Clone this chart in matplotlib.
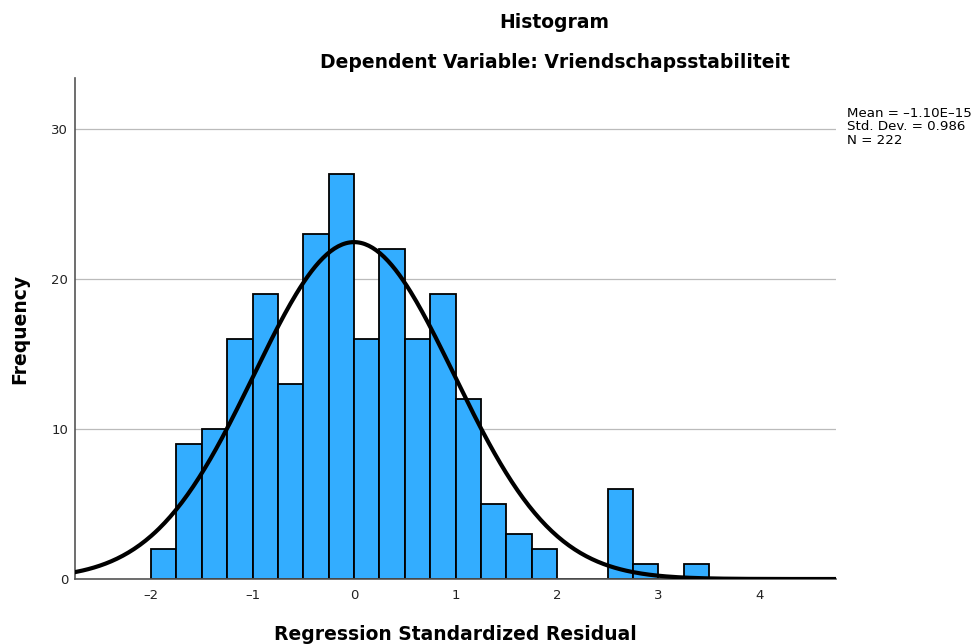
import numpy as np
import matplotlib.pyplot as plt

# histogram bins (width 0.25) and counts
bin_left = [-2.0, -1.75, -1.5, -1.25, -1.0, -0.75, -0.5, -0.25, 0.0, 0.25, 0.5,
            0.75, 1.0, 1.25, 1.5, 1.75, 2.0, 2.25, 2.5, 2.75, 3.0, 3.25]
counts = [2, 9, 10, 16, 19, 13, 23, 27, 16, 22, 16, 19, 12, 5, 3, 2, 0, 0, 6, 1, 0, 1]
bin_width = 0.25

x_ticks = [-2, -1, 0, 1, 2, 3, 4]
x_tick_labels = ['\u20132', '\u20131', '0', '1', '2', '3', '4']
y_ticks = [0, 10, 20, 30]

mean = -1.10e-15
sd = 0.986
n = 222

plt.rcParams['font.family'] = ['DejaVu Sans']

fig = plt.figure(figsize=(9.79, 6.44), dpi=100)
ax = fig.add_axes([0.0766, 0.1009, 0.854 - 0.0766, 0.879 - 0.1009])

ax.bar(bin_left, counts, width=bin_width, align='edge', color='#33adff',
       edgecolor='black', linewidth=1.3, zorder=2)

# normal curve scaled to counts
xs = np.linspace(-2.75, 4.75, 400)
ys = n * bin_width / (sd * np.sqrt(2 * np.pi)) * np.exp(-0.5 * ((xs - mean) / sd) ** 2)
ax.plot(xs, ys, color='black', linewidth=3, zorder=3)

ax.set_xlim(-2.75, 4.75)
ax.set_ylim(0, 33.4)
ax.set_xticks(x_ticks)
ax.set_xticklabels(x_tick_labels)
ax.set_yticks(y_ticks)
ax.tick_params(length=0, labelsize=9.5, colors='#222222')
ax.tick_params(axis='x', pad=7)
ax.tick_params(axis='y', pad=5)
ax.grid(axis='y', color='#bbbbbb', linewidth=0.9, zorder=0)
for s in ['top', 'right']:
    ax.spines[s].set_visible(False)
for s in ['left', 'bottom']:
    ax.spines[s].set_color('#555555')
    ax.spines[s].set_linewidth(1.2)

ax.set_xlabel('Regression Standardized Residual', fontsize=13.5, fontweight='bold', labelpad=17)
ax.set_ylabel('Frequency', fontsize=13.5, fontweight='bold', labelpad=16)

fig.text(0.566, 0.965, 'Histogram', ha='center', va='center', fontsize=13.5, fontweight='bold')
fig.text(0.567, 0.903, 'Dependent Variable: Vriendschapsstabiliteit', ha='center', va='center',
         fontsize=13.5, fontweight='bold')

fig.text(0.865, 0.803, 'Mean = \u20131.10E\u201315\nStd. Dev. = 0.986\nN = 222',
         ha='left', va='center', fontsize=9.6, linespacing=1.08)

fig.savefig('out.png', dpi=100)
